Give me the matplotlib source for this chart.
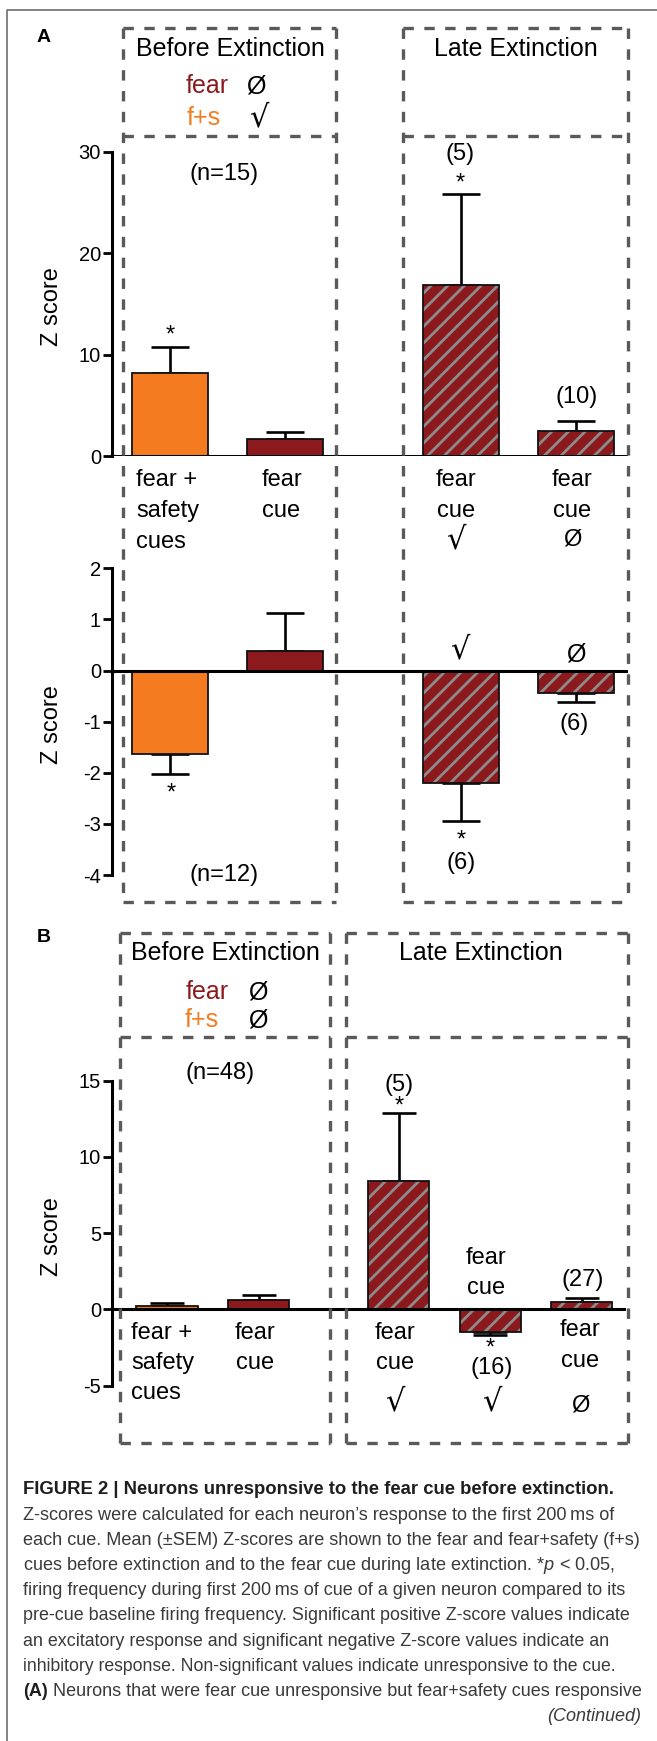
import matplotlib
matplotlib.use('Agg')
import matplotlib.pyplot as plt
from matplotlib.lines import Line2D

plt.rcParams['axes.unicode_minus'] = False
plt.rcParams['hatch.linewidth'] = 2.0
plt.rcParams['lines.scale_dashes'] = False
plt.rcParams['font.family'] = ['Liberation Sans', 'DejaVu Sans']
plt.rcParams['mathtext.fontset'] = 'custom'
plt.rcParams['mathtext.it'] = 'Liberation Sans:italic'

# ---- data ----
a_top_mean = [8.2, 1.65, 16.9, 2.5]
a_top_sem = [2.5, 0.75, 8.9, 0.95]
a_bot_mean = [-1.63, 0.39, -2.2, -0.44]
a_bot_sem = [0.40, 0.74, 0.75, 0.17]
a_style = ['fs', 'fear', 'late', 'late']

b_mean = [0.2, 0.6, 8.45, -1.49, 0.5]
b_sem = [0.2, 0.36, 4.45, 0.17, 0.22]
b_style = ['fs', 'fear', 'late', 'late', 'late']

a_top_ticks = [0, 10, 20, 30]
a_bot_ticks = [-4, -3, -2, -1, 0, 1, 2]
b_ticks = [-5, 0, 5, 10, 15]

ORANGE = '#f47b20'
RED = '#8c1a1d'
HATCH = '#8c8c8c'
BOXC = '#5a5a5a'

W, H = 657, 1741
fig = plt.figure(figsize=(W / 100, H / 100), dpi=100)


def add_ax(l, r, t, b):
    return fig.add_axes([l / W, 1 - b / H, (r - l) / W, (b - t) / H])


def bars(ax, pos, means, sems, styles, width, cap):
    for x, m, s, st in zip(pos, means, sems, styles):
        if st == 'late':
            ax.bar(x, m, width, color=RED, edgecolor=HATCH, hatch='//', linewidth=0, zorder=2)
        else:
            ax.bar(x, m, width, color=ORANGE if st == 'fs' else RED, linewidth=0, zorder=2)
        ax.bar(x, m, width, color='none', edgecolor='#111111', linewidth=1.3, zorder=3)
        err = [[0], [s]] if m >= 0 else [[s], [0]]
        ax.errorbar(x, m, yerr=err, fmt='none', ecolor='black', elinewidth=1.9,
                    capsize=cap, capthick=1.9, zorder=1)
    ax.axhline(0, color='black', lw=2.2, zorder=4)


def style_axis(ax, lo, hi, ticks):
    ax.set_ylim(lo, hi)
    ax.set_yticks(ticks)
    ax.set_xticks([])
    for s in ['top', 'right', 'bottom']:
        ax.spines[s].set_visible(False)
    ax.spines['left'].set_linewidth(2.2)
    ax.tick_params(axis='y', length=6.5, width=2.0, labelsize=14.5, pad=1.5)
    ax.patch.set_alpha(0)


gap = 0.53
pos_a = [0, 1, 2 + gap, 3 + gap]
pos_b = [0, 1, 2 + gap, 3 + gap, 4 + gap]

ax1 = add_ax(112, 628, 151.7, 456)
bars(ax1, pos_a, a_top_mean, a_top_sem, a_style, 0.66, 14)
style_axis(ax1, 0, 30, a_top_ticks)
ax1.set_xlim(-0.504, 3.983)

ax2 = add_ax(112, 628, 568.3, 875)
bars(ax2, pos_a, a_bot_mean, a_bot_sem, a_style, 0.66, 14)
style_axis(ax2, -4, 2, a_bot_ticks)
ax2.set_xlim(-0.504, 3.983)

ax3 = add_ax(112, 625.5, 1080.7, 1385.7)
bars(ax3, pos_b, b_mean, b_sem, b_style, 0.667, 12)
style_axis(ax3, -5, 15, b_ticks)
ax3.set_xlim(-0.601, 5.01)

# overlay in pixel coordinates for boxes and annotations
ov = fig.add_axes([0, 0, 1, 1], zorder=10)
ov.set_xlim(0, W)
ov.set_ylim(H, 0)
ov.axis('off')


def dline(xs, ys):
    ov.add_line(Line2D(xs, ys, color=BOXC, lw=2.4, linestyle=(0, (7.5, 7.5))))


def dbox(l, r, t, b, mid):
    dline([l, r], [t, t])
    dline([l, r], [b, b])
    dline([l, l], [t, b])
    dline([r, r], [t, b])
    dline([l, r], [mid, mid])


dbox(123, 336, 28, 902, 136)
dbox(403, 628, 28, 902, 136)
dbox(120, 330, 933, 1443, 1037)
dbox(345.5, 628, 933, 1443, 1037)

# outer frame
ov.add_line(Line2D([7, 7, W], [H, 10, 10], color='#707070', lw=1.2))


def t(x, y, s, size=17, ha='center', **kw):
    return ov.text(x, y, s, fontsize=size, ha=ha, va='center', **kw)


CHECK = '\u221a'
NULL = '\u00d8'

t(44, 37, 'A', 14, weight='bold')
t(44, 937, 'B', 14, weight='bold')

for y0, (fx, ox) in [(49, (230, 516)), (953, (225, 481))]:
    t(fx, y0, 'Before Extinction', 18)
    t(ox, y0, 'Late Extinction', 18)

t(207, 86, 'fear', 18, color=RED)
t(256, 86, NULL, 18)
t(204, 118, 'f+s', 18, color=ORANGE)
t(259, 118, CHECK, 22, family='DejaVu Sans')
t(207, 992, 'fear', 18, color=RED)
t(258, 992, NULL, 18)
t(202, 1020, 'f+s', 18, color=ORANGE)
t(258, 1020, NULL, 18)

for y in (307, 725, 1237):
    t(52, y, 'Z score', 17, rotation=90)

# panel A annotations
t(224, 174, '(n=15)')
t(170, 336, '*')
t(460, 154, '(5)')
t(460, 184, '*')
t(577, 397, '(10)')
t(224, 875, '(n=12)')
t(171, 794, '*')
t(460, 650, CHECK, 22, family='DejaVu Sans')
t(576, 655, NULL, 18)
t(461, 841, '*')
t(461, 863, '(6)')
t(574, 724, '(6)')

# panel B annotations
t(220, 1073, '(n=48)')
t(399, 1085, '(5)')
t(399, 1107, '*')
t(486, 1258, 'fear')
t(486, 1288, 'cue')
t(490, 1349, '*')
t(492, 1368, '(16)')
t(583, 1280, '(27)')


def lines(x, ys, items, ha='center'):
    for y, s in zip(ys, items):
        if s == CHECK:
            t(x, y, s, 22, ha=ha, family='DejaVu Sans')
        else:
            t(x, y, s, 17, ha=ha)


lines(136, [480, 511, 542], ['fear +', 'safety', 'cues'], ha='left')
lines(281.5, [480, 511], ['fear', 'cue'])
lines(456, [480, 511, 540], ['fear', 'cue', CHECK])
lines(572, [480, 511, 540], ['fear', 'cue', NULL])

lines(131, [1333, 1363, 1393], ['fear +', 'safety', 'cues'], ha='left')
lines(255, [1333, 1363], ['fear', 'cue'])
lines(395, [1333, 1363, 1402], ['fear', 'cue', CHECK])
lines(492, [1402], [CHECK])
lines(580, [1330, 1361, 1405], ['fear', 'cue', NULL])

# caption: each line is fitted to the width it has in the reference
cap_lines = [
    ('Z-scores were calculated for each neuron\u2019s response to the first 200\u2009ms of', 614),
    ('each cue. Mean (\u00b1SEM) Z-scores are shown to the fear and fear+safety (f+s)', 641),
    ('cues before extinction and to the fear cue during late extinction. *$\\mathit{p}$ < 0.05,', 616),
    ('firing frequency during first 200\u2009ms of cue of a given neuron compared to its', 625),
    ('pre-cue baseline firing frequency. Significant positive Z-score values indicate', 627),
    ('an excitatory response and significant negative Z-score values indicate an', 608),
    ('inhibitory response. Non-significant values indicate unresponsive to the cue.', 614),
]
cs = 13
fitted = []
fitted.append(([t(23, 1490, 'FIGURE 2 | Neurons unresponsive to the fear cue before extinction.',
                  cs, ha='left', weight='bold', color='#1e1e1e')], 615))
y = 1515
for s, right in cap_lines:
    fitted.append(([t(23, y, s, cs, ha='left', color='#3a3a3a')], right))
    y += 25.2
lab = t(23, y, '(A)', cs, ha='left', weight='bold', color='#1e1e1e')
rest = ov.annotate(' Neurons that were fear cue unresponsive but fear+safety cues responsive',
                   xy=(1, 0.5), xycoords=lab, va='center', ha='left', fontsize=cs,
                   color='#3a3a3a')
fitted.append(([lab, rest], 641))
t(641, y + 25.2, '(Continued)', cs, ha='right', style='italic', color='#3a3a3a')

fig.canvas.draw()
r = fig.canvas.get_renderer()
for arts, right in fitted:
    x1 = max(a.get_window_extent(r).x1 for a in arts)
    k = (right - 23) / (x1 - 23)
    for a in arts:
        a.set_fontsize(cs * k)

fig.savefig('out.png', dpi=100)
